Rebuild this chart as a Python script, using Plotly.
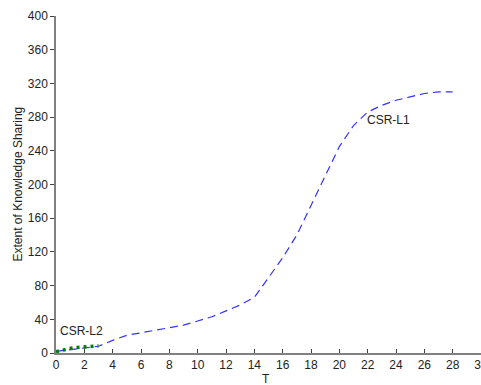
import plotly.graph_objects as go

# CSR-L1 (blue dashed)
t_l1 = [0, 1, 2, 3, 4, 5, 6, 7, 8, 9, 10, 11, 12, 13, 14, 15, 16, 17, 18, 19, 20, 21, 22, 23, 24, 25, 26, 27, 28]
v_l1 = [2, 4, 6, 8, 15, 21, 24, 27, 30, 33, 38, 43, 50, 57, 66, 90, 113, 140, 176, 210, 245, 270, 286, 294, 300, 304, 308, 310, 310]

# CSR-L2 (green dotted)
t_l2 = [0, 0.5, 1, 1.5, 2, 2.5, 3]
v_l2 = [1.5, 4, 5.5, 6.5, 7, 7.5, 8.5]

x_ticks = list(range(0, 31, 2))
y_ticks = list(range(0, 401, 40))

fig = go.Figure()
fig.add_trace(go.Scatter(x=t_l1, y=v_l1, mode="lines",
                         line=dict(color="#3333ff", width=1.2, dash="8px,5px"),
                         showlegend=False))
fig.add_trace(go.Scatter(x=t_l2, y=v_l2, mode="lines",
                         line=dict(color="#008000", width=3.5, dash="3px,4px"),
                         showlegend=False))

fig.add_annotation(x=1.8, y=26, text="CSR-L2", showarrow=False,
                   font=dict(family="Liberation Sans", size=12, color="#222222"))
fig.add_annotation(x=23.5, y=276, text="CSR-L1", showarrow=False,
                   font=dict(family="Liberation Sans", size=12, color="#222222"))
fig.add_annotation(xref="paper", yref="paper", x=0, y=0.5, xshift=-39,
                   text="Extent of Knowledge Sharing", textangle=-90, showarrow=False,
                   xanchor="center", yanchor="middle",
                   font=dict(family="Liberation Sans", size=12, color="#222222"))
fig.add_annotation(xref="paper", yref="paper", x=0.494, y=0, yshift=-26,
                   text="T", showarrow=False, xanchor="center", yanchor="middle",
                   font=dict(family="Liberation Sans", size=12, color="#222222"))

fig.update_layout(
    width=481, height=385,
    margin=dict(l=56, r=0, t=16, b=32),
    paper_bgcolor="white", plot_bgcolor="white",
    font=dict(family="Liberation Sans", size=12, color="#222222"),
    xaxis=dict(range=[0, 30], tickvals=x_ticks, ticktext=[str(v) for v in x_ticks],
               showgrid=False, zeroline=False, showline=True, linecolor="#808080", linewidth=1.5,
               ticks="inside", ticklen=4, tickcolor="#404040", automargin=False,
               ticklabeloverflow="allow"),
    yaxis=dict(range=[0, 400], tickvals=y_ticks, ticktext=[str(v) for v in y_ticks],
               showgrid=False, zeroline=False, showline=True, linecolor="#808080", linewidth=1.5,
               ticks="outside", ticklen=4, tickcolor="#404040", automargin=False,
               ticklabeloverflow="allow"),
)

fig.write_html("out.html", config={"displayModeBar": False},
               post_script="document.body.style.margin='0';document.body.style.overflow='hidden';")
